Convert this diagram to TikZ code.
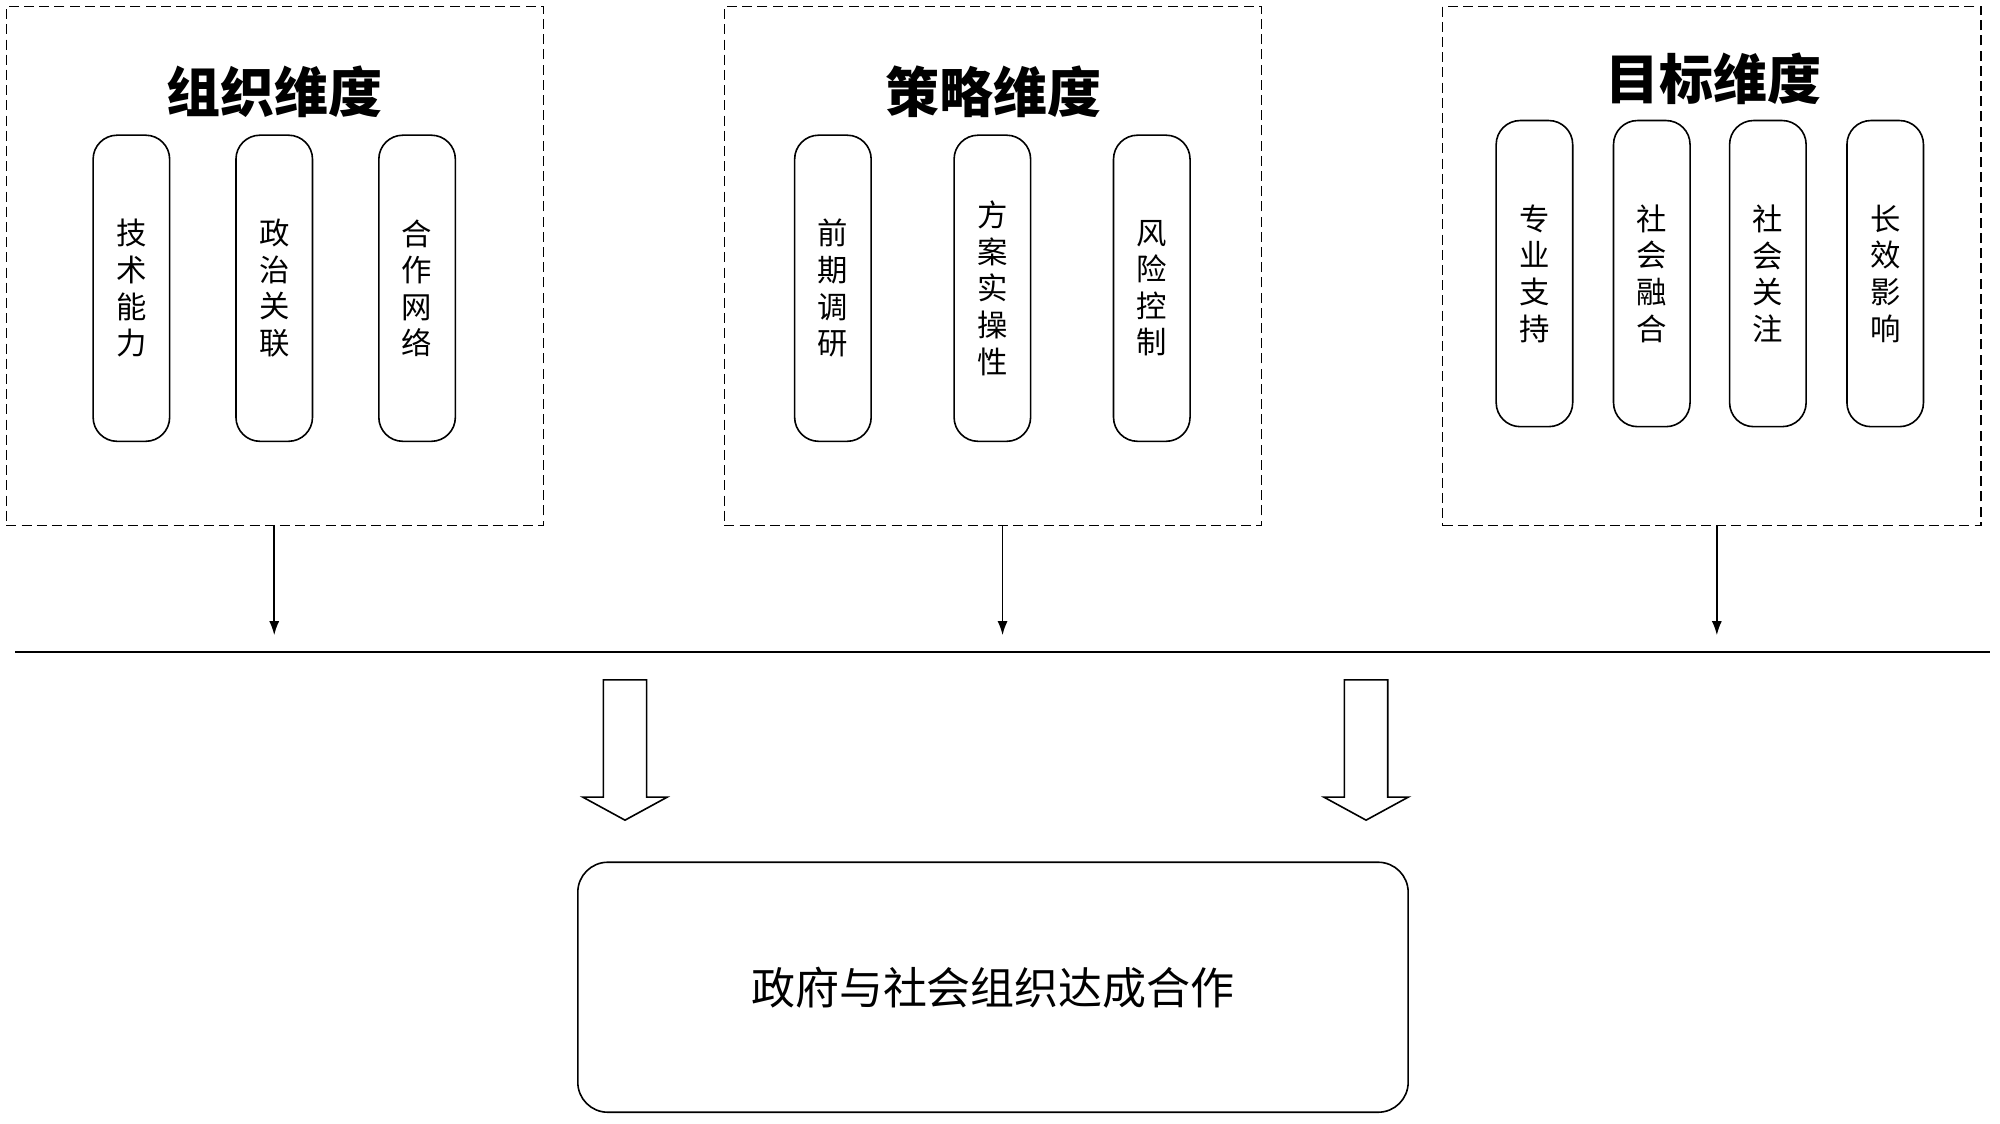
\documentclass[tikz,border=0pt]{standalone}
\usepackage{fontspec}
\setmainfont{Noto Sans CJK SC}
\usetikzlibrary{arrows.meta}
\begin{document}
\begin{tikzpicture}[x=0.6378pt,y=-0.6378pt,
  dimbox/.style={draw, dash pattern=on 5pt off 2.6pt, line width=0.75pt, minimum width=421*0.6378pt, minimum height=407*0.6378pt, inner sep=0pt},
  pill/.style={draw, rounded corners=12pt, line width=0.8pt, minimum width=60*0.6378pt, minimum height=240*0.6378pt, inner sep=0pt, align=center, font=\fontsize{15.2}{18.3}\selectfont},
  dimtitle/.style={font=\fontsize{27}{30}\selectfont\bfseries, inner sep=0pt},
  thinarrow/.style={line width=0.8pt, -{Latex[length=7pt,width=5pt]}},
  hollow/.style={draw, line width=0.8pt, fill=white},
  goalbox/.style={draw, rounded corners=15pt, line width=0.8pt, minimum width=651*0.6378pt, minimum height=196*0.6378pt, font=\fontsize{22}{26}\selectfont}
]
\useasboundingbox (0,0) rectangle (1568,881);

% dimension boxes
\node[dimbox] (box1) at (215.5,208.5) {};
\node[dimbox] (box2) at (778.5,208.5) {};
\node[dimbox, minimum width=422*0.6378pt] (box3) at (1342,208.5) {};

% titles
\node[dimtitle] (t1) at (215,72) {组织维度};
\node[dimtitle] (t2) at (779,72) {策略维度};
\node[dimtitle] (t3) at (1343,62) {目标维度};

% pills of box 1
\node[pill] (p11) at (103,226) {技\\术\\能\\力};
\node[pill] (p12) at (215,226) {政\\治\\关\\联};
\node[pill] (p13) at (327,226) {合\\作\\网\\络};
% pills of box 2
\node[pill] (p21) at (653,226) {前\\期\\调\\研};
\node[pill] (p22) at (778,226) {方\\案\\实\\操\\性};
\node[pill] (p23) at (903,226) {风\\险\\控\\制};
% pills of box 3
\node[pill] (p31) at (1203,214.5) {专\\业\\支\\持};
\node[pill] (p32) at (1295,214.5) {社\\会\\融\\合};
\node[pill] (p33) at (1386,214.5) {社\\会\\关\\注};
\node[pill] (p34) at (1478,214.5) {长\\效\\影\\响};

% horizontal line
\coordinate (hl) at (12,511);
\coordinate (hr) at (1560,511);
\draw[line width=0.8pt] (hl) -- (hr);

% thin arrows
\coordinate (a1) at (215,498);
\coordinate (a2) at (786,498);
\coordinate (a3) at (1346,498);
\draw[thinarrow] (box1.south -| a1) -- (a1);
\draw[thinarrow] (box2.south -| a2) -- (a2);
\draw[thinarrow] (box3.south -| a3) -- (a3);

% hollow arrows
\foreach \cx in {490,1071}{
  \draw[hollow] (\cx-17,533) -- (\cx+17,533) -- (\cx+17,625) -- (\cx+33,625) -- (\cx,643) -- (\cx-33,625) -- (\cx-17,625) -- cycle;
}

% goal box
\node[goalbox] (goal) at (778.5,774) {政府与社会组织达成合作};
\end{tikzpicture}
\end{document}
